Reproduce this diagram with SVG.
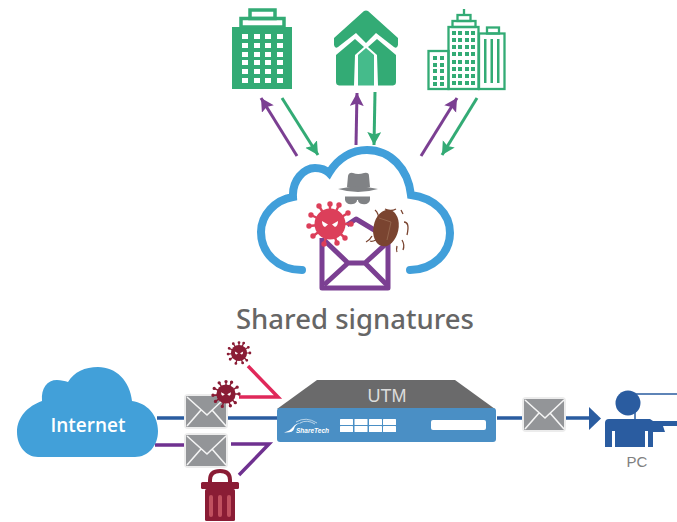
<svg xmlns="http://www.w3.org/2000/svg" xmlns:xlink="http://www.w3.org/1999/xlink" width="677" height="522" viewBox="0 0 677 522">
<style>
.g{fill:#33ab75}.go{fill:none;stroke:#33ab75;stroke-width:2.300}
.w{fill:#fff}
.ag{stroke:#33ab75;stroke-width:3;fill:none;marker-end:url(#mg)}
.ap{stroke:#7b3f92;stroke-width:3;fill:none;marker-end:url(#mp)}
.bl{stroke:#2a5ca0;stroke-width:3.500;fill:none}
.pu{stroke:#6f3190;stroke-width:3.500;fill:none}
.cr{stroke:#e0285a;stroke-width:3.500;fill:none}
.t{font-family:"Liberation Sans",Arial,sans-serif}
</style>
<defs>
<marker id="mg" markerUnits="userSpaceOnUse" markerWidth="16" markerHeight="16" refX="13" refY="7" orient="auto"><path d="M0,0L13,7L0,14L2.500,7Z" fill="#33ab75"/></marker>
<marker id="mp" markerUnits="userSpaceOnUse" markerWidth="16" markerHeight="16" refX="13" refY="7" orient="auto"><path d="M0,0L13,7L0,14L2.500,7Z" fill="#7b3f92"/></marker>
<g id="mail">
<rect width="44" height="35" rx="4" fill="#ececec"/>
<rect x="2" y="2" width="40" height="31" rx="1" fill="#939598"/>
<path d="M3,3L23,21L42,3M3,32L17,16M42,32L28,16" fill="none" stroke="#f4f4f4" stroke-width="1.600"/>
</g>
<g id="virus">
<g stroke="currentColor" stroke-width="2.400" fill="currentColor">
<path d="M0,0L0,-20M0,0L9,-19M0,0L18,-11M0,0L21,0M0,0L15,14M0,0L7,19M0,0L-6,20M0,0L-17,12M0,0L-21,2M0,0L-19,-9M0,0L-11,-18"/>
<circle cx="0" cy="-20" r="1.500"/><circle cx="9" cy="-19" r="1.500"/><circle cx="18" cy="-11" r="1.500"/><circle cx="21" cy="0" r="1.500"/><circle cx="15" cy="14" r="1.500"/><circle cx="7" cy="19" r="1.500"/><circle cx="-6" cy="20" r="1.500"/><circle cx="-17" cy="12" r="1.500"/><circle cx="-21" cy="2" r="1.500"/><circle cx="-19" cy="-9" r="1.500"/><circle cx="-11" cy="-18" r="1.500"/>
</g>
<circle r="15.500" fill="currentColor"/>
<path d="M-8,-3L-2,0.500L-5,3Q-8,2-8,-3ZM8,-3L2,0.500L5,3Q8,2 8,-3Z" fill="#fff"/>
</g>
</defs>
<rect width="677" height="522" fill="#fff"/>

<g id="connectors">
<path class="ap" d="M297,156L261,98"/>
<path class="ag" d="M282,98L318,155"/>
<path class="ap" d="M356,145L357,93"/>
<path class="ag" d="M375,92L374,145"/>
<path class="ap" d="M421,156L457,98"/>
<path class="ag" d="M477,98L442,155"/>
<path class="bl" d="M157,418H184M228,418H277M497,418H522M565,418H592"/>
<path d="M589,407L601,418.500L589,430Z" fill="#2a5ca0"/>
<path class="pu" d="M155,445H184M231,444H269L239,475"/>
<path class="cr" d="M248,366L278,397H239"/>
</g>

<g id="building-1">
<rect class="g" x="232" y="27" width="60" height="62"/>
<rect x="241" y="18.500" width="43" height="8.500" fill="none" stroke="#33ab75" stroke-width="3.500"/>
<rect x="250" y="10" width="25" height="8.500" fill="none" stroke="#33ab75" stroke-width="3.500"/>
<g class="w">
<rect x="242" y="34" width="6" height="5"/><rect x="254" y="34" width="6" height="5"/><rect x="265" y="34" width="6" height="5"/><rect x="277" y="34" width="6" height="5"/>
<rect x="242" y="43" width="6" height="5"/><rect x="254" y="43" width="6" height="5"/><rect x="265" y="43" width="6" height="5"/><rect x="277" y="43" width="6" height="5"/>
<rect x="242" y="52" width="6" height="5"/><rect x="254" y="52" width="6" height="5"/><rect x="265" y="52" width="6" height="5"/><rect x="277" y="52" width="6" height="5"/>
<rect x="242" y="60" width="6" height="5"/><rect x="254" y="60" width="6" height="5"/><rect x="265" y="60" width="6" height="5"/><rect x="277" y="60" width="6" height="5"/>
<rect x="242" y="69" width="6" height="5"/><rect x="254" y="69" width="6" height="5"/><rect x="265" y="69" width="6" height="5"/><rect x="277" y="69" width="6" height="5"/>
<rect x="242" y="78" width="6" height="5"/><rect x="254" y="78" width="6" height="5"/><rect x="265" y="78" width="6" height="5"/><rect x="277" y="78" width="6" height="5"/>
</g>
</g>

<g id="building-2">
<path class="g" d="M334,38L364,11Q366,10 368,11L398,38V45Q397,49 394,47L376,33L366,43L356,33L338,47Q335,49 334,45Z"/>
<path class="g" d="M336,55L355,39L364,47L355,55L354,85.500H339Q336,85 336,82Z"/>
<path class="g" d="M396,55L377,39L368,47L377,55L378,85.500H393Q396,85 396,82Z"/>
<path fill="#45bb8b" d="M358,55L366,48L374,55V85.500H358Z"/>
</g>

<g id="building-3">
<g class="go">
<rect x="428.500" y="51" width="20" height="38"/>
<rect x="448.500" y="27" width="30" height="62"/>
<rect x="479" y="33.500" width="25.500" height="55.500"/>
<rect x="452.500" y="21" width="23" height="6"/>
<rect x="457.500" y="15" width="13" height="6"/>
<path d="M464,9V15"/>
<rect x="487" y="27.500" width="12" height="6"/>
</g>
<g class="g">
<rect x="433" y="56" width="4" height="4"/><rect x="440" y="56" width="4" height="4"/><rect x="433" y="63" width="4" height="4"/><rect x="440" y="63" width="4" height="4"/><rect x="433" y="69" width="4" height="4"/><rect x="440" y="69" width="4" height="4"/><rect x="433" y="76" width="4" height="4"/><rect x="440" y="76" width="4" height="4"/><rect x="433" y="82" width="4" height="4"/><rect x="440" y="82" width="4" height="4"/>
<rect x="452" y="31" width="4" height="4"/><rect x="458" y="31" width="4" height="4"/><rect x="465" y="31" width="4" height="4"/><rect x="471" y="31" width="4" height="4"/>
<rect x="452" y="38" width="4" height="4"/><rect x="458" y="38" width="4" height="4"/><rect x="465" y="38" width="4" height="4"/><rect x="471" y="38" width="4" height="4"/>
<rect x="452" y="45" width="4" height="4"/><rect x="458" y="45" width="4" height="4"/><rect x="465" y="45" width="4" height="4"/><rect x="471" y="45" width="4" height="4"/>
<rect x="452" y="52" width="4" height="4"/><rect x="458" y="52" width="4" height="4"/><rect x="465" y="52" width="4" height="4"/><rect x="471" y="52" width="4" height="4"/>
<rect x="452" y="60" width="4" height="4"/><rect x="458" y="60" width="4" height="4"/><rect x="465" y="60" width="4" height="4"/><rect x="471" y="60" width="4" height="4"/>
<rect x="452" y="67" width="4" height="4"/><rect x="458" y="67" width="4" height="4"/><rect x="465" y="67" width="4" height="4"/><rect x="471" y="67" width="4" height="4"/>
<rect x="452" y="74" width="4" height="4"/><rect x="458" y="74" width="4" height="4"/><rect x="465" y="74" width="4" height="4"/><rect x="471" y="74" width="4" height="4"/>
<rect x="452" y="81" width="4" height="4"/><rect x="458" y="81" width="4" height="4"/><rect x="465" y="81" width="4" height="4"/><rect x="471" y="81" width="4" height="4"/>
<rect x="484" y="39" width="2.500" height="44"/><rect x="490.500" y="39" width="2.500" height="44"/><rect x="497" y="39" width="2.500" height="44"/>
</g>
</g>

<g id="shared-cloud">
<path d="M302,270C278,270 261,253 261,232C261,215 275,200 293,197C292,180 304,168 315,168C320,168 326,170 329,173C338,158 352,150 367,150C390,150 408,168 411,195C434,198 450,213 450,233C450,253 433,270 410,270" fill="none" stroke="#419fda" stroke-width="8" stroke-linecap="round"/>
<g id="spy" fill="#808285">
<path d="M347,187L348,176Q349,172 353,173Q358,175 364,173Q369,172 369,176L370,187Q358,191 347,187Z"/>
<path d="M338,189Q358,184 378,189Q358,195 338,189Z"/>
<path d="M345,196.500H370V200Q369,205 362,204Q358,203 358,200H357Q357,203 353,204Q346,205 345,200Z"/>
</g>
<g id="mail-purple" fill="none" stroke="#7b3f92" stroke-width="5" stroke-linejoin="round">
<path d="M322,238V288H388V240"/>
<path d="M324,240L348,263H365L388,242M324,285L348,263M365,263L387,285M347,225L356,219L376,231"/>
</g>
<g id="red-virus" color="#dc3f5a"><use xlink:href="#virus" href="#virus" transform="translate(330,224)"/></g>
<g id="bug">
<path d="M375,210Q379,213 379,222M385,209Q391,212 396,209M401,210L403,214M404,222Q410,222 407,235M402,240Q405,245 403,250M397,246Q396,250 397,252M376,240Q372,242 370,241M372,236Q370,240 366,242" fill="none" stroke="#7a4430" stroke-width="1.300"/>
<ellipse cx="386" cy="228" rx="12.500" ry="18.500" transform="rotate(12 386 228)" fill="#7a4430"/>
<path d="M379,218L391,222L387,240" fill="none" stroke="#a57a60" stroke-width=".6"/>
</g>
</g>

<text id="title" x="355" y="329" text-anchor="middle" font-family="'Noto Sans','Open Sans',sans-serif" font-weight="500" font-size="27.500" fill="#666">Shared signatures</text>

<g id="internet">
<path d="M38,457C26,457 17,446 17,432C17,417 28,406 42,401C41,388 47,380 57,380C61,380 65,381 68,382C74,372 85,367 98,367C116,367 130,381 132,401C147,403 158,415 158,431C158,446 148,457 135,457Z" fill="#42a0d9"/>
<text x="88" y="432" text-anchor="middle" font-family="'Open Sans',sans-serif" font-weight="600" font-size="19" fill="#fff">Internet</text>
</g>

<g id="mail-1"><use xlink:href="#mail" href="#mail" transform="translate(184,394)"/></g>
<g id="mail-2"><use xlink:href="#mail" href="#mail" transform="translate(184,433)"/></g>
<g id="mail-3"><use xlink:href="#mail" href="#mail" transform="translate(522,397)"/></g>

<g id="virus-1" color="#8a1c35"><use xlink:href="#virus" href="#virus" transform="translate(239,353) scale(.52)"/></g>
<g id="virus-2" color="#8a1c35"><use xlink:href="#virus" href="#virus" transform="translate(226,394) scale(.62)"/></g>

<g id="trash">
<path d="M210,483V480Q210,471 220,471Q230,471 230,480V483" fill="none" stroke="#8a1c35" stroke-width="4"/>
<rect x="201" y="482" width="38" height="7" rx="1.500" fill="#8a1c35"/>
<rect x="205" y="489" width="30" height="32" rx="1.500" fill="#8a1c35"/>
<g fill="#c0505f"><rect x="209" y="495" width="4" height="22" rx="2"/><rect x="218" y="495" width="4" height="22" rx="2"/><rect x="227" y="495" width="4" height="22" rx="2"/></g>
</g>

<g id="utm">
<path d="M317,380H455L495,409H277Z" fill="#6a6a6b"/>
<rect x="277" y="408" width="219" height="34" rx="3" fill="#4a8fc5"/>
<text class="t" x="387" y="402" text-anchor="middle" font-size="18" fill="#dcdcdc">UTM</text>
<path d="M284,432.500Q290,431 293,427Q296,423 301,423Q295,424 294,429Q293,433 284,432.500Z" fill="#fff"/>
<path d="M296,422Q306,416 317,423M300,423Q307,419 315,424" fill="none" stroke="#fff" stroke-width=".6"/>
<text class="t" x="296" y="432.500" font-size="6.500" font-weight="bold" font-style="italic" fill="#fff">ShareTech</text>
<g class="w">
<rect x="340" y="419" width="13" height="6" rx=".5"/><rect x="354.500" y="419" width="13" height="6" rx=".5"/><rect x="369" y="419" width="13" height="6" rx=".5"/><rect x="383" y="419" width="13" height="6" rx=".5"/>
<rect x="340" y="426" width="13" height="6" rx=".5"/><rect x="354.500" y="426" width="13" height="6" rx=".5"/><rect x="369" y="426" width="13" height="6" rx=".5"/><rect x="383" y="426" width="13" height="6" rx=".5"/>
<rect x="431" y="420" width="55" height="10" rx="2"/>
</g>
</g>

<g id="pc">
<path d="M635,394H677M635,394V420" fill="none" stroke="#2a5ca0" stroke-width="1.500"/>
<circle cx="628" cy="403" r="12.500" fill="#2a5ca0"/>
<path d="M609,419H650L653,421H677V426H663L665,432H653V447H648V431H645V447H615V431H612V447H605V423Q605,419 609,419Z" fill="#2a5ca0"/>
<text class="t" x="637" y="467" text-anchor="middle" font-size="15" fill="#808080">PC</text>
</g>
</svg>
